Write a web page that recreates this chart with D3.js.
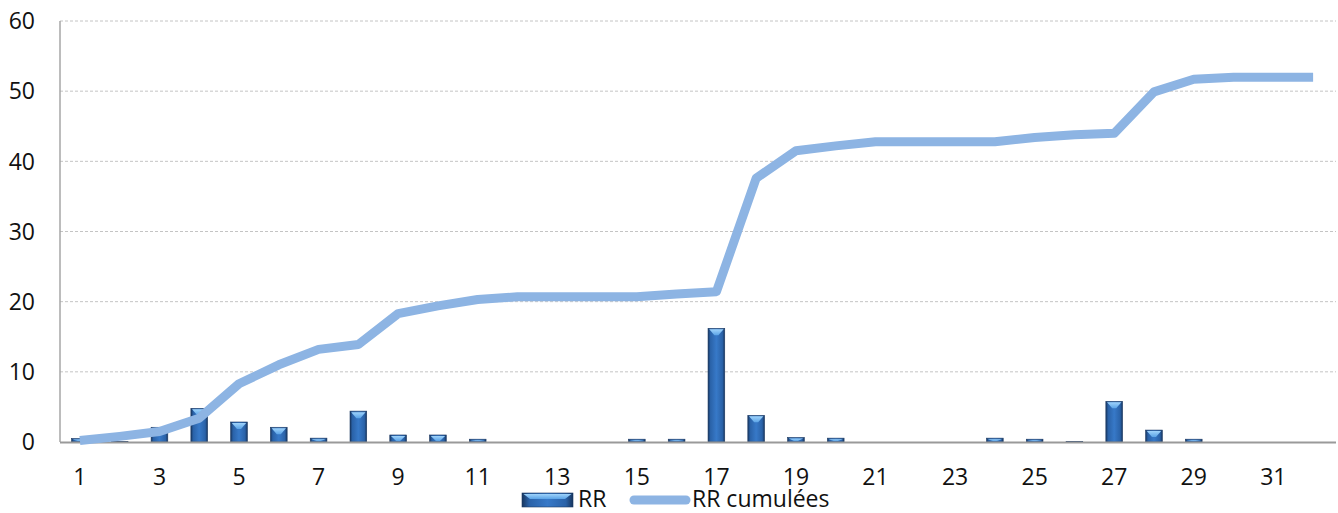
<!DOCTYPE html>
<html><head><meta charset="utf-8">
<script src="https://cdn.jsdelivr.net/npm/d3@7"></script>
<style>body{margin:0;background:#fff}svg{display:block}text{font-family:"Open Sans",Lato,sans-serif;fill:#111}</style>
</head><body><svg id="c" width="1338" height="513"></svg>
<script>
const days = d3.range(1, 33);
const rr = [0.5,0.1,2.1,4.8,2.85,2.1,0.55,4.4,1.0,1.0,0.4,0,0,0,0.4,0.4,16.2,3.8,0.65,0.55,0,0,0,0.55,0.4,0.05,5.8,1.7,0.4,0,0,0];
const rrCum = [0.2,0.8,1.5,3.4,8.3,11,13.2,13.9,18.3,19.4,20.3,20.7,20.7,20.7,20.7,21.1,21.4,37.6,41.5,42.2,42.8,42.8,42.8,42.8,43.4,43.8,44.0,49.9,51.7,52,52,52];
const yTicks = [0,10,20,30,40,50,60];
const xTickLabels = days.filter(d => d % 2 === 1);
const seriesNames = ["RR","RR cumulées"];

const svg = d3.select("#c");
const L=60, R=1333, T=21, B=442;
const FS = 23;
const x = d3.scaleBand().domain(days).range([L,R]).paddingInner(0.58).paddingOuter(0.29);
const y = d3.scaleLinear().domain([0,60]).range([B,T]);

const defs = svg.append("defs");
const g1 = defs.append("linearGradient").attr("id","barg").attr("x1","0").attr("x2","1").attr("y1","0").attr("y2","0");
[["0%","#17355e"],["14%","#2a62a8"],["50%","#3779c8"],["86%","#2a62a8"],["100%","#17355e"]].forEach(s=>g1.append("stop").attr("offset",s[0]).attr("stop-color",s[1]));
const g2 = defs.append("linearGradient").attr("id","bevel").attr("x1","0").attr("x2","0").attr("y1","0").attr("y2","1");
[["0%","#9fd3fb"],["100%","#5aa3e6"]].forEach(s=>g2.append("stop").attr("offset",s[0]).attr("stop-color",s[1]));

// grid
svg.append("g").selectAll("line").data(yTicks.filter(v=>v>0)).join("line")
  .attr("x1",L).attr("x2",R+3).attr("y1",d=>y(d)).attr("y2",d=>y(d))
  .attr("stroke","#c4c4c4").attr("stroke-width",1).attr("stroke-dasharray","3,2");

// y labels
svg.append("g").selectAll("text").data(yTicks).join("text")
  .attr("x",35).attr("y",d=>y(d)).attr("dy","0.36em").attr("text-anchor","end")
  .attr("font-size",FS).text(d=>d);

// bars
const bw = x.bandwidth();
const bars = svg.append("g").selectAll("g").data(days.map((d,i)=>({d,v:rr[i]})).filter(o=>o.v>0)).join("g");
bars.append("rect").attr("x",o=>x(o.d)).attr("y",o=>y(o.v)).attr("width",bw).attr("height",o=>B-y(o.v))
  .attr("fill","url(#barg)").attr("stroke","#1b3963").attr("stroke-width",0.6);
bars.append("path").attr("d",o=>{
  const x0=x(o.d)+1.2, x1=x(o.d)+bw-1.2, yt=y(o.v)+1, h=Math.min(6,Math.max(0,B-y(o.v)-2));
  const xm=(x0+x1)/2;
  return `M${x0},${yt}L${x1},${yt}L${xm+2},${yt+h}L${xm-2},${yt+h}Z`;
}).attr("fill","url(#bevel)");

// axes
svg.append("line").attr("x1",L).attr("x2",L).attr("y1",T).attr("y2",B).attr("stroke","#a6a6a6").attr("stroke-width",1.5);
svg.append("line").attr("x1",L).attr("x2",R+3).attr("y1",B+0.5).attr("y2",B+0.5).attr("stroke","#9a9a9a").attr("stroke-width",2.2);

// line
const line = d3.line().x((v,i)=>x(days[i])+bw/2).y(v=>y(v));
svg.append("path").datum(rrCum).attr("d",line).attr("fill","none")
  .attr("stroke","#8db4e3").attr("stroke-width",9).attr("stroke-linejoin","round").attr("stroke-linecap","butt");

// x labels
svg.append("g").selectAll("text").data(xTickLabels).join("text")
  .attr("x",d=>x(d)+bw/2).attr("y",485).attr("text-anchor","middle")
  .attr("font-size",FS).text(d=>d);

// legend
const lg = svg.append("g");
lg.append("rect").attr("x",522).attr("y",493).attr("width",51).attr("height",14).attr("fill","url(#barg)").attr("stroke","#1b3963").attr("stroke-width",0.6);
lg.append("path").attr("d","M523.5,494 L571.5,494 L565,499 L530,499 Z").attr("fill","url(#bevel)");
lg.append("text").attr("x",578).attr("y",507).attr("font-size",FS).text(seriesNames[0]);
lg.append("line").attr("x1",634).attr("x2",686).attr("y1",500).attr("y2",500).attr("stroke","#8db4e3").attr("stroke-width",9).attr("stroke-linecap","round");
lg.append("text").attr("x",692).attr("y",507).attr("font-size",FS).text(seriesNames[1]);
</script></body></html>
